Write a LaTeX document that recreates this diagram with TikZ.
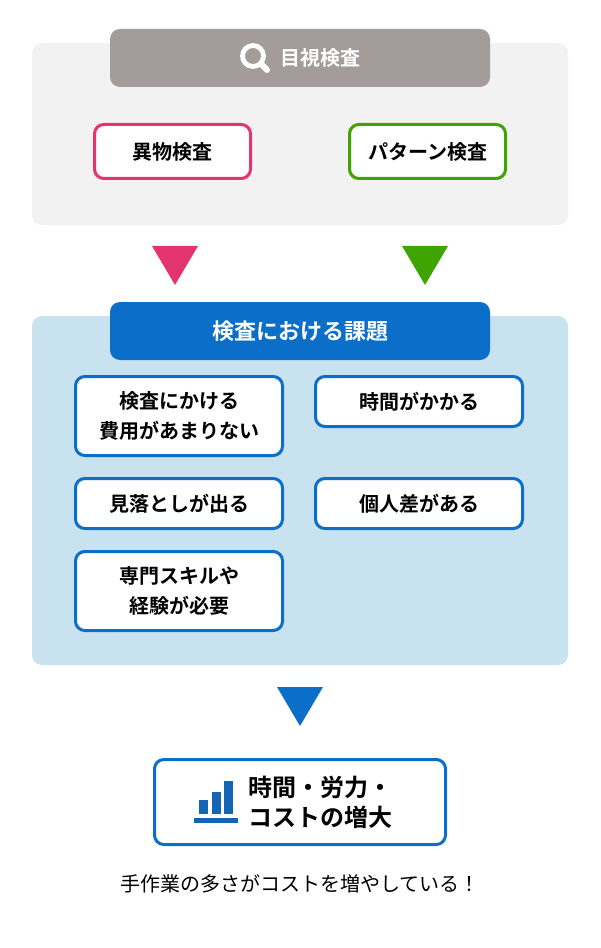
\documentclass[tikz,border=0pt]{standalone}
\usepackage{fontspec}
\setmainfont{Noto Sans CJK JP}[BoldFont={* Bold}]
\usepackage{tikz}
\usetikzlibrary{positioning,calc}

\definecolor{panelgray}{HTML}{F2F2F2}
\definecolor{panelblue}{HTML}{C9E2F0}
\definecolor{headgray}{HTML}{A39C9B}
\definecolor{issueblue}{HTML}{0B6FC9}
\definecolor{iconblue}{HTML}{1565B5}
\definecolor{foreignpink}{HTML}{E43470}
\definecolor{patterngreen}{HTML}{3FA300}

\begin{document}
\begin{tikzpicture}[
    x = 0.75pt, y = -0.75pt,
    panel/.style = {rectangle, rounded corners=7.5pt, minimum width=402pt, inner sep=0pt},
    header/.style = {rectangle, rounded corners=7.5pt, minimum width=285pt, minimum height=43.5pt, inner sep=0pt, text=white, font=\fontsize{15}{22.5}\selectfont\bfseries},
    kind/.style = {rectangle, draw, line width=2.25pt, rounded corners=7pt, fill=white, minimum width=117pt, minimum height=40.5pt, inner sep=0pt, font=\fontsize{15}{22.5}\selectfont\bfseries},
    issue/.style = {rectangle, draw=issueblue, line width=2.25pt, rounded corners=7pt, fill=white, minimum width=155.25pt, inner sep=0pt, align=center, font=\fontsize{15}{22.5}\selectfont\bfseries},
    short/.style = {issue, minimum height=37.5pt},
    tall/.style = {issue, minimum height=59.25pt},
    result/.style = {rectangle, draw=issueblue, line width=2.25pt, rounded corners=7pt, fill=white, minimum width=218.25pt, minimum height=63.75pt, inner sep=0pt},
    downarrow/.style = {line join=round}
]
    \useasboundingbox (0,0) rectangle (600,948);

    % Visual inspection
    \node[panel, fill=panelgray, minimum height=136.5pt] (grayPanel) at (300,134) {};
    \node[header, fill=headgray] (grayHead) at (300,58) {};
    \node[text=white, inner sep=0pt, font=\fontsize{15}{22.5}\selectfont\bfseries] (grayTitle) at (320,58) {目視検査};
    \node[kind, draw=foreignpink] (foreign) at (172.5,151.5) {異物検査};
    \node[kind, draw=patterngreen] (pattern) at (427.5,151.5) {パターン検査};

    % Magnifier icon
    \draw[white, line width=3.6pt] (253,56) circle (10.5);
    \draw[white, line width=4.5pt, line cap=round] (261,64) -- (267,70);

    % Arrows
    \fill[foreignpink, downarrow] (152,246) -- (198,246) -- (175,285) -- cycle;
    \fill[patterngreen, downarrow] (402,246) -- (448,246) -- (425,285) -- cycle;

    % Issues
    \node[panel, fill=panelblue, minimum height=261.75pt] (bluePanel) at (300,490.5) {};
    \node[header, fill=issueblue, font=\fontsize{16.5}{22.5}\selectfont\bfseries] (blueHead) at (300,331) {検査における課題};
    \node[tall] (cost) at (179,416) {検査にかける\\費用があまりない};
    \node[short] (time) at (419,401.5) {時間がかかる};
    \node[short] (miss) at (179,503.5) {見落としが出る};
    \node[short] (person) at (419,503.5) {個人差がある};
    \node[tall] (skill) at (179,591) {専門スキルや\\経験が必要};

    % Arrow to result
    \fill[issueblue, downarrow] (277,687) -- (323,687) -- (300,726) -- cycle;

    % Result
    \node[result] (total) at (300,802) {};
    \node[anchor=west, align=left, inner sep=0pt, font=\fontsize{18}{22.5}\selectfont\bfseries] (totalText) at (248,802) {時間・労力・\\コストの増大};

    % Bar chart icon
    \fill[iconblue] (199,800) rectangle (208,814);
    \fill[iconblue] (212,792) rectangle (221,814);
    \fill[iconblue] (224,781) rectangle (233,814);
    \fill[iconblue] (194,817.5) rectangle (238,822.5);

    % Caption
    \node[font=\fontsize{15}{20}\selectfont] (caption) at (300,884) {手作業の多さがコストを増やしている！};
\end{tikzpicture}
\end{document}
